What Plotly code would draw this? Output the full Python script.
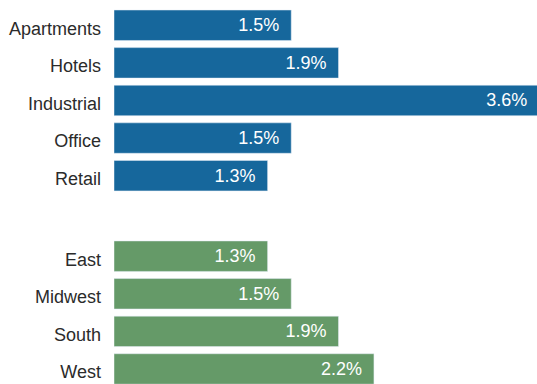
import plotly.graph_objects as go
from plotly.subplots import make_subplots

sectors = ["Apartments", "Hotels", "Industrial", "Office", "Retail"]
sector_values = [1.5, 1.9, 3.6, 1.5, 1.3]
regions = ["East", "Midwest", "South", "West"]
region_values = [1.3, 1.5, 1.9, 2.2]

BLUE = "#16679C"
GREEN = "#659A68"
FONT = "Liberation Sans, Arial, sans-serif"
PAD = "\u2002"

fig = make_subplots(rows=2, cols=1, shared_xaxes=True, vertical_spacing=0)

fig.add_trace(go.Bar(
    x=sector_values, y=sectors, orientation="h", marker_color=BLUE,
    text=[f"{v:.1f}%{PAD}" for v in sector_values], textposition="inside",
    insidetextanchor="end", insidetextfont=dict(color="white", size=18, family=FONT),
    hoverinfo="skip", cliponaxis=True,
), row=1, col=1)

fig.add_trace(go.Bar(
    x=region_values, y=regions, orientation="h", marker_color=GREEN,
    text=[f"{v:.1f}%{PAD}" for v in region_values], textposition="inside",
    insidetextanchor="end", insidetextfont=dict(color="white", size=18, family=FONT),
    hoverinfo="skip", cliponaxis=True,
), row=2, col=1)

fig.update_layout(
    width=537, height=384,
    margin=dict(l=114, r=0, t=0, b=0),
    paper_bgcolor="white", plot_bgcolor="white",
    showlegend=False, bargap=0.19,
    font=dict(family=FONT, size=18, color="#2b2b2b"),
)

fig.update_xaxes(range=[0, 3.58], showgrid=False, zeroline=False, showticklabels=False,
                 showline=False, ticks="")
fig.update_yaxes(showgrid=False, zeroline=False, showline=False, ticks="",
                 ticklabelstandoff=12, ticklabelshift=-3,
                 tickfont=dict(size=18, color="#2b2b2b", family=FONT))
fig.update_yaxes(range=[4.5, -0.5], domain=[0.4936, 0.9832], row=1, col=1)
fig.update_yaxes(range=[3.4, -0.5], domain=[0.0, 0.3818], row=2, col=1)

fig.write_html("out.html")
